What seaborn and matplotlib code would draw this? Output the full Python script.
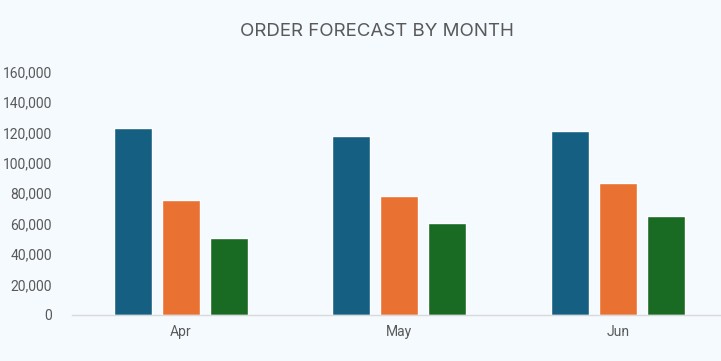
import matplotlib
matplotlib.use("Agg")
import matplotlib.pyplot as plt
import seaborn as sns
import pandas as pd
from matplotlib.ticker import FuncFormatter

months = ["Apr", "May", "Jun"]
series_names = ["Series 1", "Series 2", "Series 3"]
series1 = [123000, 117800, 121000]
series2 = [75700, 78300, 86800]
series3 = [50700, 60500, 65100]

colors = ["#156082", "#E97132", "#196B24"]
bg = "#F5FAFF"
text_color = "#595959"

rows = []
for name, vals in zip(series_names, [series1, series2, series3]):
    for m, v in zip(months, vals):
        rows.append({"Month": m, "Series": name, "Value": v})
df = pd.DataFrame(rows)

sns.set_theme(style="white")
plt.rcParams["font.family"] = ["Roboto", "DejaVu Sans"]

fig = plt.figure(figsize=(7.21, 3.61), dpi=100, facecolor=bg)
ax = fig.add_axes([71.5 / 721, (361 - 315) / 361, 655.5 / 721, (315 - 71.5) / 361])
ax.set_facecolor(bg)

sns.barplot(data=df, x="Month", y="Value", hue="Series", order=months,
            hue_order=series_names, palette=colors, width=0.659, gap=0.208,
            saturation=1, legend=False, ax=ax, errorbar=None)

ax.set_xlim(-0.5, 2.5)
ax.set_ylim(0, 160000)
ax.set_yticks(range(0, 160001, 20000))
ax.yaxis.set_major_formatter(FuncFormatter(lambda v, p: f"{int(v):,}"))
ax.set_xlabel("")
ax.set_ylabel("")
for s in ["top", "right", "left"]:
    ax.spines[s].set_visible(False)
ax.spines["bottom"].set_color("#D9D9D9")
ax.spines["bottom"].set_linewidth(1.0)
ax.tick_params(axis="both", length=0, labelsize=10, labelcolor=text_color)
ax.tick_params(axis="y", pad=14)
ax.tick_params(axis="x", pad=7)
ax.grid(False)

fig.text(377 / 721, 1 - 32 / 361, "ORDER FORECAST BY MONTH", ha="center", va="center",
         fontsize=13.5, color=text_color, family=["Inter", "DejaVu Sans"])

fig.savefig("out.png", dpi=100, facecolor=bg)
